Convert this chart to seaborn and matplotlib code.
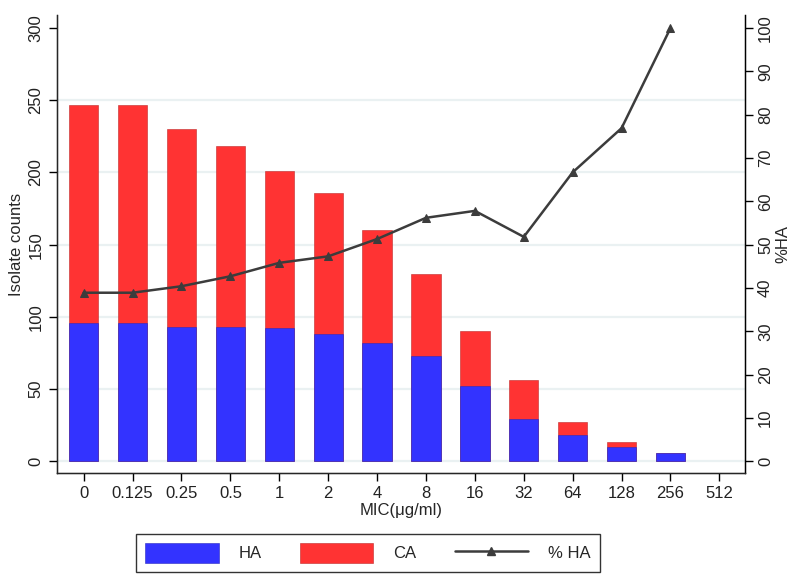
import numpy as np
import pandas as pd
import matplotlib
matplotlib.use('Agg')
import matplotlib.pyplot as plt
import seaborn as sns
from matplotlib.patches import Patch
from matplotlib.lines import Line2D

# MIC categories and counts (512 has no isolates)
mic = ['0', '0.125', '0.25', '0.5', '1', '2', '4', '8', '16', '32', '64', '128', '256', '512']
ha = [96, 96, 93, 93, 92, 88, 82, 73, 52, 29, 18, 10, 6, np.nan]
ca = [151, 151, 137, 125, 109, 98, 78, 57, 38, 27, 9, 3, 0, np.nan]
pct_ha = [38.9, 38.9, 40.4, 42.7, 45.8, 47.3, 51.3, 56.2, 57.8, 51.8, 66.7, 76.9, 100.0]

blue = '#3333ff'
red = '#ff3333'
linec = '#3c3c3c'
gridc = '#eaf1f2'
fs = 12

sns.set_style('white')
plt.rcParams['font.family'] = ['Liberation Sans', 'DejaVu Sans']

df = pd.DataFrame({'mic': mic, 'ha': ha, 'ca': ca})
df['total'] = df['ha'] + df['ca']

fig = plt.figure(figsize=(8, 5.82), dpi=100)
ax = fig.add_axes([0.071, 0.187, 0.86, 0.787])

# stacked bars: total in red, HA in blue on top of it
sns.barplot(data=df, x='mic', y='total', order=mic, color=red, width=0.6,
            edgecolor='#c02a2a', linewidth=0.4, saturation=1, ax=ax)
sns.barplot(data=df, x='mic', y='ha', order=mic, color=blue, width=0.6,
            edgecolor='#2a2ac0', linewidth=0.4, saturation=1, ax=ax)

ax.set_ylim(-8.3, 309)
ax.set_xlim(-0.55, 13.52)
ax.set_yticks(range(0, 301, 50))
for yv in range(0, 251, 50):
    ax.axhline(yv, color=gridc, lw=1.6, zorder=0)
ax.set_axisbelow(True)
ax.set_ylabel('Isolate counts', fontsize=fs, labelpad=3)
ax.set_xlabel('MIC(μg/ml)', fontsize=fs, labelpad=1)
ax.tick_params(axis='y', labelrotation=90, labelsize=fs, length=6, width=1,
               direction='out', left=True, color='black', labelcolor='#222222')
ax.tick_params(axis='x', labelsize=fs, length=6, width=1, direction='out',
               bottom=True, color='black', labelcolor='#222222')
for lab in ax.get_yticklabels():
    lab.set_va('center')
for s in ['left', 'bottom', 'right']:
    ax.spines[s].set_color('black')
    ax.spines[s].set_linewidth(1)
ax.spines['top'].set_visible(False)

ax2 = ax.twinx()
sns.lineplot(x=np.arange(len(pct_ha)), y=pct_ha, color=linec, lw=1.8,
             marker='^', markersize=6, markeredgecolor=linec, ax=ax2)
ax2.set_ylim(-8.3 / 3, 103)
ax2.set_yticks(range(0, 101, 10))
ax2.set_ylabel('%HA', fontsize=fs, labelpad=2)
ax2.tick_params(axis='y', labelrotation=90, labelsize=fs, length=6, width=1,
                direction='out', right=True, color='black', labelcolor='#222222')
for lab in ax2.get_yticklabels():
    lab.set_va('center')
ax2.spines['top'].set_visible(False)
ax2.spines['right'].set_color('black')
ax2.grid(False)

handles = [Patch(facecolor=blue, edgecolor='#2a2ac0', lw=0.4),
           Patch(facecolor=red, edgecolor='#c02a2a', lw=0.4),
           Line2D([], [], color=linec, lw=1.8, marker='^', markersize=6)]
leg = fig.legend(handles, ['HA', 'CA', '% HA'], loc='center',
                 bbox_to_anchor=(0.46, 0.05), ncol=3, fontsize=fs,
                 frameon=True, fancybox=False, edgecolor='black',
                 handlelength=4.4, handleheight=1.4, columnspacing=2.3,
                 handletextpad=1.2, borderpad=0.55)
leg.get_frame().set_linewidth(1)

fig.savefig('out.png', dpi=100)
